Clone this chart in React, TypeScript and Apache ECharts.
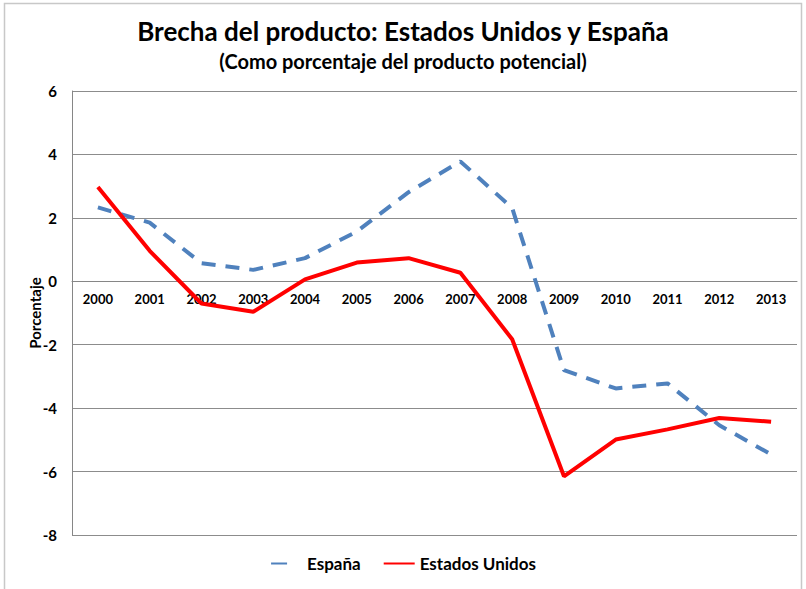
import React, { useEffect, useRef } from "react";
import * as echarts from "echarts";

const years = ["2000","2001","2002","2003","2004","2005","2006","2007","2008","2009","2010","2011","2012","2013"];
const espana = [2.33, 1.85, 0.57, 0.36, 0.73, 1.57, 2.81, 3.78, 2.31, -2.8, -3.38, -3.22, -4.54, -5.46];
const estadosUnidos = [2.97, 0.96, -0.7, -0.96, 0.06, 0.59, 0.73, 0.27, -1.83, -6.15, -4.99, -4.67, -4.31, -4.43];

const FONT = "Lato, 'Liberation Sans', sans-serif";

export default function App() {
  const ref = useRef<HTMLDivElement>(null);
  useEffect(() => {
    if (!ref.current) return;
    const chart = echarts.init(ref.current, null, { renderer: "svg" });
    chart.setOption({
      animation: false,
      backgroundColor: "#ffffff",
      textStyle: { fontFamily: FONT },
      title: {
        text: "Brecha del producto: Estados Unidos y España",
        subtext: "(Como porcentaje del producto potencial)",
        left: "center",
        top: 13,
        itemGap: 7,
        textStyle: { fontFamily: FONT, fontSize: 26, fontWeight: "bold", color: "#000" },
        subtextStyle: { fontFamily: FONT, fontSize: 20, fontWeight: "bold", color: "#000" },
      },
      graphic: [
        {
          type: "rect",
          shape: { x: 4.5, y: 3.5, width: 797, height: 600 },
          style: { fill: "none", stroke: "#c8c8c8", lineWidth: 1.5 },
          silent: true,
        },
      ],
      legend: {
        bottom: 12,
        left: "center",
        itemGap: 22,
        itemWidth: 31,
        itemHeight: 10,
        textStyle: { fontFamily: FONT, fontSize: 17, fontWeight: "bold", color: "#000" },
        data: [
          { name: "España", lineStyle: { type: [16, 30] }, itemStyle: { opacity: 0 } },
          { name: "Estados Unidos", itemStyle: { opacity: 0 } },
        ],
      },
      grid: { left: 72, right: 9, top: 91, bottom: 54 },
      xAxis: {
        type: "category",
        data: years,
        boundaryGap: true,
        position: "bottom",
        offset: -254,
        axisLine: { onZero: false, lineStyle: { color: "#868686", width: 1 } },
        axisTick: { show: false },
        axisLabel: { fontFamily: FONT, fontSize: 13, fontWeight: "bold", color: "#000", margin: 11, interval: 0 },
      },
      yAxis: {
        type: "value",
        min: -8,
        max: 6,
        interval: 2,
        name: "Porcentaje",
        nameLocation: "middle",
        nameGap: 30,
        nameMoveOverlap: false,
        nameTextStyle: { fontFamily: FONT, fontSize: 15, fontWeight: "bold", color: "#000" },
        axisLine: { show: true, lineStyle: { color: "#868686", width: 1 } },
        axisTick: { show: false },
        axisLabel: { fontFamily: FONT, fontSize: 15, fontWeight: "bold", color: "#000", margin: 15 },
        splitLine: { show: true, lineStyle: { color: "#8c8c8c", width: 1 } },
      },
      series: [
        {
          name: "España",
          type: "line",
          data: espana,
          symbol: "none",
          color: "#4F81BD",
          lineStyle: { color: "#4F81BD", width: 4, type: [14, 10] },
          z: 2,
        },
        {
          name: "Estados Unidos",
          type: "line",
          data: estadosUnidos,
          symbol: "none",
          color: "#FF0000",
          lineStyle: { color: "#FF0000", width: 4 },
          z: 3,
        },
      ],
    });
    return () => chart.dispose();
  }, []);
  return <div ref={ref} style={{ position: "fixed", left: 0, top: 0, width: 806, height: 589 }} />;
}
